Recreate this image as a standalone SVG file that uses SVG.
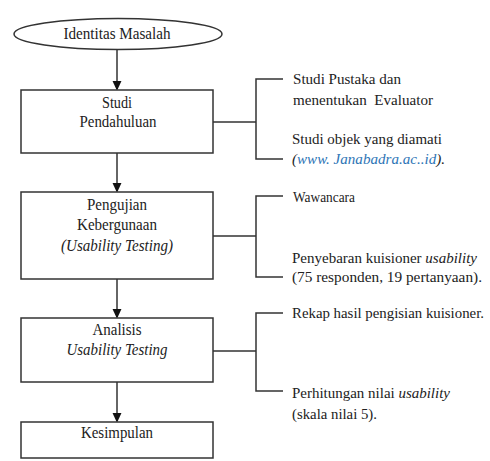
<svg xmlns="http://www.w3.org/2000/svg" width="490" height="461" viewBox="0 0 490 461">
<style>
.box{fill:#fff;stroke:#333;stroke-width:1.5}
.ln{fill:none;stroke:#333;stroke-width:1.5}
text{font-family:'Liberation Serif','Times New Roman',serif;font-size:16px;fill:#222}
.n{font-size:15px}
.c{text-anchor:middle}
.i{font-style:italic}
.lnk{fill:#2e75b6}
</style>
<defs>
<marker id="ah" markerWidth="10" markerHeight="12" refX="9" refY="5" orient="auto" markerUnits="userSpaceOnUse" viewBox="0 0 11 10">
<path d="M0,0 L11,5 L0,10 z" fill="#111"/>
</marker>
</defs>
<g id="connectors">
<line class="ln" x1="117" y1="49" x2="117" y2="89" marker-end="url(#ah)"/>
<line class="ln" x1="117" y1="153" x2="117" y2="191" marker-end="url(#ah)"/>
<line class="ln" x1="117" y1="279" x2="117" y2="317" marker-end="url(#ah)"/>
<line class="ln" x1="117" y1="382" x2="117" y2="421" marker-end="url(#ah)"/>
<path class="ln" d="M213,122 H256 M283,79 H256 V159 H283"/>
<path class="ln" d="M213,236 H256 M283,196 H256 V277 H283"/>
<path class="ln" d="M213,351 H256 M283,313 H256 V391 H283"/>
</g>
<g id="n-identitas">
<ellipse class="box" cx="118" cy="34" rx="104" ry="15.5"/>
<text class="c" x="117" y="39" textLength="107" lengthAdjust="spacingAndGlyphs">Identitas Masalah</text>
</g>
<g id="n-studi">
<rect class="box" x="21" y="90" width="192" height="63"/>
<text class="c" x="117" y="108" textLength="30" lengthAdjust="spacingAndGlyphs">Studi</text>
<text class="c" x="118" y="127" textLength="77" lengthAdjust="spacingAndGlyphs">Pendahuluan</text>
</g>
<g id="n-pengujian">
<rect class="box" x="21" y="192" width="192" height="87"/>
<text class="c" x="117" y="210" textLength="60" lengthAdjust="spacingAndGlyphs">Pengujian</text>
<text class="c" x="117" y="230" textLength="80" lengthAdjust="spacingAndGlyphs">Kebergunaan</text>
<text class="c i" x="117" y="251" textLength="112" lengthAdjust="spacingAndGlyphs">(Usability Testing)</text>
</g>
<g id="n-analisis">
<rect class="box" x="21" y="318" width="192" height="64"/>
<text class="c" x="117" y="335" textLength="49" lengthAdjust="spacingAndGlyphs">Analisis</text>
<text class="c i" x="117" y="355" textLength="101" lengthAdjust="spacingAndGlyphs">Usability Testing</text>
</g>
<g id="n-kesimpulan">
<rect class="box" x="21" y="422" width="192" height="36"/>
<text class="c" x="117" y="438" textLength="72" lengthAdjust="spacingAndGlyphs">Kesimpulan</text>
</g>
<g id="notes-studi">
<text class="n" x="293" y="84" textLength="108" lengthAdjust="spacingAndGlyphs">Studi Pustaka dan</text>
<text class="n" x="293" y="105" textLength="140" lengthAdjust="spacingAndGlyphs" xml:space="preserve">menentukan  Evaluator</text>
<text class="n" x="292" y="144" textLength="150" lengthAdjust="spacingAndGlyphs">Studi objek yang diamati</text>
<text class="n i" x="292" y="164" textLength="153" lengthAdjust="spacingAndGlyphs">(<tspan class="lnk">www. Janabadra.ac..id</tspan>).</text>
</g>
<g id="notes-pengujian">
<text class="n" x="293" y="202" textLength="62" lengthAdjust="spacingAndGlyphs">Wawancara</text>
<text class="n" x="292" y="263" textLength="185" lengthAdjust="spacingAndGlyphs">Penyebaran kuisioner <tspan class="i">usability</tspan></text>
<text class="n" x="292" y="282" textLength="190" lengthAdjust="spacingAndGlyphs">(75 responden, 19 pertanyaan).</text>
</g>
<g id="notes-analisis">
<text class="n" x="292" y="318" textLength="192" lengthAdjust="spacingAndGlyphs">Rekap hasil pengisian kuisioner.</text>
<text class="n" x="292" y="398" textLength="158" lengthAdjust="spacingAndGlyphs">Perhitungan nilai <tspan class="i">usability</tspan></text>
<text class="n" x="292" y="419" textLength="85" lengthAdjust="spacingAndGlyphs">(skala nilai 5).</text>
</g>
</svg>
